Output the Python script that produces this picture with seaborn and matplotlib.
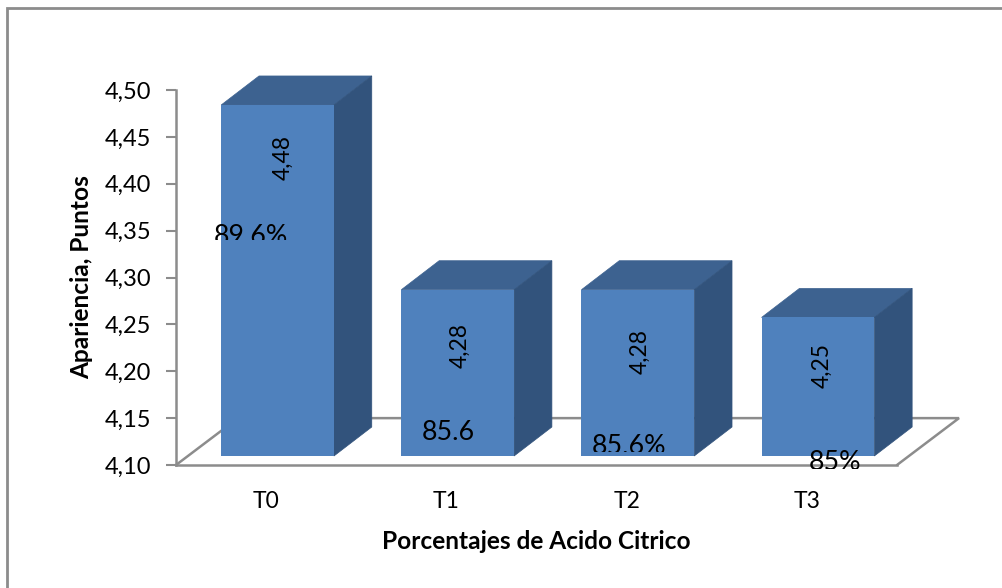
import matplotlib
matplotlib.use("Agg")
import matplotlib.pyplot as plt
import seaborn as sns
import pandas as pd
from matplotlib.lines import Line2D
from matplotlib.patches import Polygon, Rectangle
from matplotlib.transforms import Affine2D

# Data
tratamientos = ["T0", "T1", "T2", "T3"]
apariencia = [4.48, 4.28, 4.28, 4.25]
porcentajes = ["89.6%", "85.6", "85.6%", "85%"]
y_ticks = [4.10, 4.15, 4.20, 4.25, 4.30, 4.35, 4.40, 4.45, 4.50]

W, H = 1003, 588
sns.set_theme(style="white")
plt.rcParams["font.family"] = ["Lato", "DejaVu Sans"]

GREY = "#8c8c8c"
FRONT = "#4f81bd"
TOP = "#3d6290"
SIDE = "#32537c"


def box(x0, y_top, x1, y_bottom):
    # pixel box (from top left) to figure fraction
    return [x0 / W, 1 - y_bottom / H, (x1 - x0) / W, (y_bottom - y_top) / H]


# pixels measured from the top left corner of the figure
pixels = Affine2D().scale(1, -1).translate(0, H)

fig = plt.figure(figsize=(W / 100, H / 100), dpi=100)
# outer frame, only top and left are inside the crop
fig.add_artist(Line2D([6.5, 6.5, W], [H, 7.5, 7.5], transform=pixels, color=GREY, linewidth=2,
                      solid_joinstyle="miter"))

# Wall axis with the ticks and the floor
ax_axis = fig.add_axes(box(176, 90, 897, 465))
ax_axis.set_xlim(-0.5, 3.5)
ax_axis.set_ylim(4.10, 4.50)
ax_axis.patch.set_alpha(0)
ax_axis.set_yticks(y_ticks)
ax_axis.set_yticklabels([f"{v:.2f}".replace(".", ",") for v in y_ticks], fontsize=17, color="black")
ax_axis.set_xticks(range(len(tratamientos)))
ax_axis.set_xticklabels(tratamientos, fontsize=16.5, color="black")
ax_axis.tick_params(axis="y", left=True, length=7, width=1.5, color=GREY, pad=11)
ax_axis.tick_params(axis="x", bottom=False, pad=13)
for side in ["top", "right"]:
    ax_axis.spines[side].set_visible(False)
for side in ["left", "bottom"]:
    ax_axis.spines[side].set_color(GREY)
    ax_axis.spines[side].set_linewidth(1.8)
ax_axis.set_ylabel("Apariencia, Puntos", fontsize=17.6, fontweight="bold", color="black", labelpad=8)
ax_axis.set_xlabel("Porcentajes de Acido Citrico", fontsize=17.6, fontweight="bold", color="black", labelpad=13)

# floor of the 3D chart
floor_dx = 0.344
floor_dy = 0.05
ax_axis.plot([-0.5, -0.5 + floor_dx, 3.5 + floor_dx, 3.5],
             [4.10, 4.10 + floor_dy, 4.10 + floor_dy, 4.10],
             color=GREY, linewidth=1.8, clip_on=False, solid_joinstyle="miter")

# Bars, on a slightly shifted plane like the front of the 3D box
ax = fig.add_axes(box(187.5, 86.5, 908, 456))
ax.patch.set_alpha(0)
df = pd.DataFrame({"trat": tratamientos, "valor": apariencia})
sns.barplot(data=df, x="trat", y="valor", color=FRONT, saturation=1, width=0.626, ax=ax, zorder=3, linewidth=0)
ax.set_xlim(-0.5, 3.5)
ax.set_ylim(4.10, 4.50)
ax.axis("off")

depth_x = 0.21
depth_y = 0.0314
for bar in list(ax.patches):
    left = bar.get_x()
    right = left + bar.get_width()
    top = bar.get_y() + bar.get_height()
    bottom = 4.10
    ax.add_patch(Polygon([(left, top), (right, top), (right + depth_x, top + depth_y), (left + depth_x, top + depth_y)],
                         facecolor=TOP, edgecolor=TOP, linewidth=0.5, clip_on=False, zorder=2))
    ax.add_patch(Polygon([(right, bottom), (right, top), (right + depth_x, top + depth_y), (right + depth_x, bottom + depth_y)],
                         facecolor=SIDE, edgecolor=SIDE, linewidth=0.5, clip_on=False, zorder=2))

# Value labels, rotated inside the bars
value_pos = [(283, 158), (460, 345), (640, 351), (822, 366)]
for valor, (x, y) in zip(apariencia, value_pos):
    fig.text(x, y, f"{valor:.2f}".replace(".", ","), transform=pixels, rotation=90,
             ha="center", va="center", fontsize=16.5, color="black", zorder=5)

# Percent labels, some of them cut off at the bottom like in the original
pct_pos = [(251, 224, 240), (448, 420, 445), (629, 434, 452), (835, 450, 469)]
for texto, (x, y, cut) in zip(porcentajes, pct_pos):
    t = fig.text(x, y, texto, transform=pixels, ha="center", va="top", fontsize=19.3, color="black", zorder=5)
    t.set_clip_path(Rectangle((x - 60, y - 10), 120, cut - y + 10, transform=pixels))

fig.savefig("out.png", dpi=100)
